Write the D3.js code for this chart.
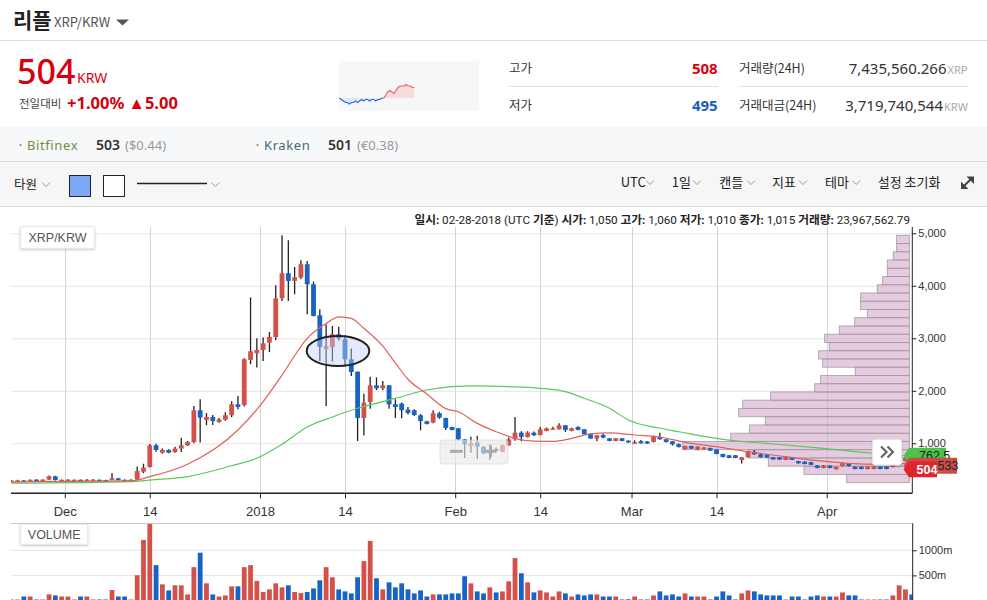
<!DOCTYPE html>
<html>
<head>
<meta charset="utf-8">
<title>리플 XRP/KRW</title>
<script src="https://d3js.org/d3.v7.min.js"></script>
<style>
  body { margin: 0; background: #fff; overflow: hidden; }
  svg { display: block; }
</style>
</head>
<body>
<svg id="c" width="987" height="600"></svg>
<script>
// one candle per UTC day, starting at firstDay
var firstDay = '2017-11-22';
var opens = [
  262,265,292,280,308,290,308,371,290,292,
  290,305,288,290,305,300,300,333,305,290,
  310,460,549,962,822,873,835,899,962,1025,
  1629,1445,1502,1407,1451,1534,1743,1730,2588,2715,
  2778,2918,3026,3762,4239,4093,4157,4410,4029,3439,
  2803,2835,3077,2981,2600,2365,1483,1788,2105,2047,
  2105,1743,1756,1642,1629,1534,1419,1394,1572,1483,
  1311,1286,1076,949,1013,930,810,892,840,962,
  1076,1203,1121,1203,1159,1235,1280,1267,1343,1235,
  1311,1267,1180,1090,1159,1095,1045,1095,1050,1015,
  1040,1035,1026,1121,1077,1038,985,886,949,880,
  886,911,880,797,772,772,682,734,840,790,
  780,734,730,683,730,660,650,640,575,530,
  575,505,570,615,552,552,510,510,552,552,
  552,590,663,700];
var highs = [
  300,305,300,312,315,316,385,380,312,315,
  312,310,318,320,312,308,435,340,312,315,
  560,610,985,990,900,885,935,1108,1045,1711,
  1838,1578,1540,1480,1590,1800,1900,2620,3775,3000,
  3013,3121,4010,4963,4867,4359,4486,4474,4080,3553,
  3267,3236,3220,3058,2804,2370,1946,2270,2251,2188,
  2110,1838,1775,1690,1650,1560,1430,1629,1600,1485,
  1315,1290,1080,1127,1140,950,981,920,975,1110,
  1502,1229,1230,1225,1310,1300,1315,1380,1345,1295,
  1325,1270,1185,1160,1180,1100,1100,1100,1060,1060,
  1065,1045,1150,1203,1080,1045,995,955,955,945,
  925,915,885,800,775,775,740,860,870,800,
  790,740,738,740,735,670,660,650,585,585,
  580,555,630,625,560,560,560,560,560,560,
  610,650,740,705];
var lows = [
  250,255,255,272,282,285,300,292,280,285,
  284,278,282,285,280,280,295,292,278,285,
  300,430,540,840,800,810,820,835,950,1000,
  1013,1343,1350,1390,1430,1500,1650,1700,2505,2442,
  2569,2740,2962,3712,3712,3839,4125,3458,3413,2569,
  1711,2556,2960,2486,2283,1045,1150,1660,2016,2010,
  1660,1483,1477,1550,1520,1248,1360,1380,1470,1255,
  1248,1060,720,822,708,790,689,835,830,950,
  1050,1038,1110,1140,1150,1230,1260,1265,1215,1230,
  1248,1170,1085,1040,1095,1040,1040,1040,1010,990,
  995,985,1015,1070,1015,960,920,880,890,870,
  880,855,790,730,715,715,613,730,780,730,
  725,685,684,680,680,612,600,585,525,525,
  525,500,560,560,505,505,505,505,505,505,
  545,585,655,500];
var closes = [
  290,292,262,305,290,308,371,300,305,308,
  305,285,305,306,288,286,333,300,285,305,
  470,537,962,873,873,822,899,962,1025,1629,
  1489,1502,1426,1457,1534,1743,1692,2600,2753,2778,
  2905,3026,3762,4239,4093,4163,4410,4029,3426,2835,
  2848,3077,3000,2600,2359,1483,1775,2105,2047,2105,
  1743,1692,1629,1578,1540,1426,1369,1572,1489,1292,
  1254,1076,981,1000,937,810,876,856,962,1076,
  1203,1121,1203,1153,1267,1286,1286,1343,1254,1286,
  1254,1172,1090,1153,1108,1045,1095,1045,1015,1020,
  1000,995,1128,1077,1025,981,930,949,899,937,
  918,861,797,740,721,721,734,840,790,734,
  730,695,690,730,683,620,605,590,530,575,
  530,550,620,568,510,510,552,552,510,510,
  600,640,715,533];
// volume in millions of XRP
var volumes = [
  20,20,80,80,20,20,121,101,80,80,
  20,80,80,20,20,20,208,80,80,20,
  503,1207,1529,704,322,201,302,302,121,664,
  952,342,121,80,101,282,282,664,704,389,
  168,221,342,262,302,168,148,168,241,402,
  664,463,221,181,141,463,785,1187,443,221,
  362,262,342,221,141,201,80,121,121,121,
  141,141,483,342,181,141,262,161,181,382,
  845,543,362,161,201,161,80,181,141,80,
  121,101,121,121,80,80,80,20,23.96756279,80,
  20,20,101,181,101,121,80,141,80,80,
  80,20,80,181,101,20,141,201,181,121,
  101,101,101,20,80,80,20,80,101,80,
  80,80,161,101,101,20,20,20,20,20,
  101,302,221,121];
var hoverIndex = 98;

// moving averages
var maShortDates = ['2017-11-22','2017-12-11','2017-12-14','2017-12-20','2017-12-28','2018-01-01','2018-01-04','2018-01-08','2018-01-11','2018-01-13','2018-01-15','2018-01-17','2018-01-20','2018-01-22','2018-01-24','2018-01-27','2018-01-30','2018-02-01','2018-02-04','2018-02-07','2018-02-10','2018-02-13','2018-02-16','2018-02-19','2018-02-22','2018-02-25','2018-03-01','2018-03-05','2018-03-09','2018-03-14','2018-03-19','2018-03-25','2018-03-30','2018-04-04','2018-04-09','2018-04-13'];
var maShort = [265,285,364,600,1253,1793,2300,3000,3280,3410,3381,3191,2850,2530,2220,1940,1660,1600,1380,1221,1095,1040,1035,1095,1180,1200,1158,1120,1019,935,840,745,669,619,600,619];
var maLongDates = ['2017-11-22','2017-12-11','2017-12-14','2017-12-20','2017-12-27','2017-12-31','2018-01-04','2018-01-08','2018-01-12','2018-01-16','2018-01-20','2018-01-22','2018-01-27','2018-01-31','2018-02-04','2018-02-09','2018-02-14','2018-02-18','2018-02-21','2018-02-25','2018-02-28','2018-03-05','2018-03-08','2018-03-15','2018-03-23','2018-03-31','2018-04-08','2018-04-13'];
var maLong = [240,269,300,364,573,714,981,1311,1501,1667,1793,1857,2015,2078,2092,2078,2048,1983,1857,1667,1444,1286,1220,1076,987,905,810,762.5];

// volume profile, lowest price bin first
var profileVol = [470,790,1058,1208,1700,1340,1200,1080,1280,1250,1040,710,665,405,650,680,600,635,525,410,315,365,365,240,200,165,165,120,95,95];

var priceTicks = [1000,2000,3000,4000,5000];
var volTicks = [500,1000];
var timeTicks = ['2017-12-01T00:00Z','2017-12-14T12:00Z','2018-01-01T00:00Z','2018-01-14T12:00Z','2018-02-01T00:00Z','2018-02-14T12:00Z','2018-03-01T00:00Z','2018-03-14T12:00Z','2018-04-01T00:00Z'];
var timeLabels = ['Dec','14','2018','14','Feb','14','Mar','14','Apr'];

var lastPrices = [762.5, 533, 504];

// 24h sparkline and its previous close
var sparkVals = [499,498,497,496,496,495,496,496,497,496,497,498,497,498,498,497,498,498,497,498,498,499,499,501,503,504,503,502,504,506,507,507,507,508,507,507,506,506];
var sparkBase = 499;

// drawn ellipse annotation (time span, price span)
var ellipseDates = ['2018-01-08T10:00Z','2018-01-18T08:36Z'];
var ellipsePrices = [2473, 3044];

var KR = '"Noto Sans CJK KR", "Noto Sans", sans-serif';
var NS = '"Noto Sans", sans-serif';
var AR = '"Liberation Sans", Arial, sans-serif';
var RED = '#d7000f', BLUE = '#1a5dc8';
var UP = '#d4514a', DOWN = '#1763c6';

var svg = d3.select('#c');

function label(g, x, y, s, o) {
  o = o || {};
  return g.append('text').attr('x', x).attr('y', y).text(s)
    .attr('font-family', o.family || KR)
    .attr('font-size', o.size || 13)
    .attr('font-weight', o.weight || 400)
    .attr('fill', o.fill || '#333')
    .attr('text-anchor', o.anchor || 'start');
}
function chev(x, y) {
  svg.append('path').attr('d', 'M' + x + ',' + y + 'l4,4l4,-4')
    .attr('fill', 'none').attr('stroke', '#9a9a9a').attr('stroke-width', 1);
}

var defs = svg.append('defs');
defs.append('filter').attr('id', 'sh').attr('x', '-20%').attr('y', '-30%').attr('width', '140%').attr('height', '170%')
  .append('feDropShadow').attr('dx', 0).attr('dy', 1).attr('stdDeviation', 1.2).attr('flood-opacity', 0.22);
defs.append('clipPath').attr('id', 'plot').append('rect').attr('x', 11).attr('y', 227).attr('width', 901.3).attr('height', 266.3);
defs.append('clipPath').attr('id', 'vplot').append('rect').attr('x', 11).attr('y', 524).attr('width', 901.5).attr('height', 80);

// ---------- header ----------
label(svg, 13, 28, '리플', {size: 21, weight: 700, fill: '#222'});
label(svg, 54, 27, 'XRP/KRW', {size: 13, fill: '#555'});
svg.append('path').attr('d', 'M116,19.5L129,19.5L122.5,25.5Z').attr('fill', '#555');
svg.append('line').attr('x1', 0).attr('x2', 987).attr('y1', 40.5).attr('y2', 40.5).attr('stroke', '#ddd');

label(svg, 17, 84, '504', {size: 34, weight: 500, fill: RED, family: NS});
label(svg, 77, 83, 'KRW', {size: 14, fill: RED, family: NS});
label(svg, 19, 108, '전일대비', {size: 11.5, fill: '#444'});
label(svg, 67, 109, '+1.00% ▲5.00', {size: 16.5, weight: 700, fill: RED, family: NS});

// sparkline
svg.append('rect').attr('x', 339).attr('y', 60.7).attr('width', 140).attr('height', 50.3).attr('fill', '#f6f7f9');
var sx = d3.scaleLinear().domain([0, 69]).range([339.3, 479]);
var sy = d3.scaleLinear().domain([495, 508]).range([104, 84.5]);
defs.append('clipPath').attr('id', 'spUp').append('rect').attr('x', 339).attr('y', 60).attr('width', 140).attr('height', sy(sparkBase) - 60);
defs.append('clipPath').attr('id', 'spDn').append('rect').attr('x', 339).attr('y', sy(sparkBase)).attr('width', 140).attr('height', 111 - sy(sparkBase));
var spArea = d3.area().x(function(d, i) { return sx(i); }).y0(sy(sparkBase)).y1(function(d) { return sy(d); });
var spLine = d3.line().x(function(d, i) { return sx(i); }).y(function(d) { return sy(d); });
svg.append('path').datum(sparkVals).attr('d', spArea).attr('fill', '#f7dcdc').attr('clip-path', 'url(#spUp)');
svg.append('path').datum(sparkVals).attr('d', spArea).attr('fill', '#dfe6f5').attr('clip-path', 'url(#spDn)');
svg.append('path').datum(sparkVals).attr('d', spLine).attr('fill', 'none').attr('stroke', '#e06a66').attr('stroke-width', 1.2).attr('clip-path', 'url(#spUp)');
svg.append('path').datum(sparkVals).attr('d', spLine).attr('fill', 'none').attr('stroke', '#2f6fd0').attr('stroke-width', 1.2).attr('clip-path', 'url(#spDn)');

// high / low / volume block
label(svg, 509, 73, '고가', {size: 12.5, fill: '#333'});
label(svg, 717.7, 74, '508', {size: 15, weight: 700, fill: RED, anchor: 'end', family: NS});
label(svg, 509, 110, '저가', {size: 12.5, fill: '#333'});
label(svg, 717.7, 111, '495', {size: 15, weight: 700, fill: BLUE, anchor: 'end', family: NS});
svg.append('line').attr('x1', 509).attr('x2', 718).attr('y1', 86.5).attr('y2', 86.5).attr('stroke', '#e2e2e6');
svg.append('line').attr('x1', 739).attr('x2', 969).attr('y1', 86.5).attr('y2', 86.5).attr('stroke', '#e2e2e6');
label(svg, 739, 73, '거래량(24H)', {size: 12.5, fill: '#333'});
label(svg, 946.5, 74, '7,435,560.266', {size: 15, fill: '#333', anchor: 'end', family: NS});
label(svg, 947.5, 74, 'XRP', {size: 11, fill: '#aaa', family: NS});
label(svg, 739, 110, '거래대금(24H)', {size: 12.5, fill: '#333'});
label(svg, 943, 111, '3,719,740,544', {size: 15, fill: '#333', anchor: 'end', family: NS});
label(svg, 944, 111, 'KRW', {size: 11, fill: '#aaa', family: NS});

// exchanges bar
svg.append('rect').attr('x', 0).attr('y', 128).attr('width', 987).attr('height', 34).attr('fill', '#f7f8fa');
svg.append('line').attr('x1', 0).attr('x2', 987).attr('y1', 128).attr('y2', 128).attr('stroke', '#eef0f3');
svg.append('line').attr('x1', 0).attr('x2', 987).attr('y1', 161.5).attr('y2', 161.5).attr('stroke', '#dcdcdc');
svg.append('circle').attr('cx', 20.5).attr('cy', 145).attr('r', 1.1).attr('fill', '#888');
label(svg, 27, 149.5, 'Bitfinex', {size: 13, fill: '#6f8d3c', family: NS}).attr('letter-spacing', 0.6);
label(svg, 96, 149.5, '503', {size: 14, weight: 600, fill: '#333', family: NS});
label(svg, 125, 149.5, '($0.44)', {size: 13, fill: '#999', family: NS});
svg.append('circle').attr('cx', 257.5).attr('cy', 145).attr('r', 1.1).attr('fill', '#888');
label(svg, 264, 149.5, 'Kraken', {size: 13, fill: '#46697a', family: NS}).attr('letter-spacing', 0.6);
label(svg, 328, 149.5, '501', {size: 14, weight: 600, fill: '#333', family: NS});
label(svg, 357, 149.5, '(€0.38)', {size: 13, fill: '#999', family: NS});

// toolbar
svg.append('rect').attr('x', 0).attr('y', 162).attr('width', 987).attr('height', 44).attr('fill', '#f6f6f6');
svg.append('line').attr('x1', 0).attr('x2', 987).attr('y1', 206.5).attr('y2', 206.5).attr('stroke', '#dcdcdc');
label(svg, 14, 189, '타원', {size: 12.5, fill: '#222'});
chev(42, 182.5);
svg.append('rect').attr('x', 69.5).attr('y', 175.5).attr('width', 21).attr('height', 21).attr('fill', '#7ea8f3').attr('stroke', '#222');
svg.append('rect').attr('x', 103.5).attr('y', 175.5).attr('width', 21).attr('height', 21).attr('fill', '#fff').attr('stroke', '#222');
svg.append('line').attr('x1', 137).attr('x2', 207).attr('y1', 183.5).attr('y2', 183.5).attr('stroke', '#222').attr('stroke-width', 1.3);
chev(211.5, 182.5);
[['UTC', 620.7, 646], ['1일', 671.7, 693], ['캔들', 719.3, 747], ['지표', 772, 799], ['테마', 825, 852.3]].forEach(function(m) {
  label(svg, m[1], 187, m[0], {size: 13, fill: '#222'});
  chev(m[2], 180.5);
});
label(svg, 877.7, 187, '설정 초기화', {size: 13, fill: '#222'});
svg.append('path').attr('d', 'M966.5,176.5L974,176.5L974,184Z M961,181.5L961,189L968.5,189Z').attr('fill', '#444');
svg.append('line').attr('x1', 963).attr('y1', 187).attr('x2', 972).attr('y2', 178).attr('stroke', '#444').attr('stroke-width', 2);

// ---------- chart ----------
var dates = opens.map(function(d, i) { return d3.utcDay.offset(new Date(firstDay + 'T12:00:00Z'), i); });
var x = d3.scaleUtc().domain([new Date(Date.UTC(2017, 10, 22, 11)), new Date(Date.UTC(2018, 3, 14, 14, 10))]).range([11, 912.3]);
var y = d3.scaleLinear().domain([1000, 5000]).range([443.3, 233.3]);
var yv = d3.scaleLinear().domain([0, 1000]).range([600.5, 550.3]);
var tickDates = timeTicks.map(function(t) { return new Date(t); });

// hovered candle info line
var fmt = d3.format(',');
var hd = dates[hoverIndex];
var info = svg.append('text').attr('x', 910).attr('y', 224).attr('text-anchor', 'end')
  .attr('font-family', 'Roboto, ' + KR).attr('font-size', 11.7).attr('fill', '#222');
[['일시: ', 1], [d3.utcFormat('%m-%d-%Y')(hd) + ' (UTC ', 0], ['기준', 1], [') ', 0],
 ['시가: ', 1], [fmt(opens[hoverIndex]) + ' ', 0], ['고가: ', 1], [fmt(highs[hoverIndex]) + ' ', 0],
 ['저가: ', 1], [fmt(lows[hoverIndex]) + ' ', 0], ['종가: ', 1], [fmt(closes[hoverIndex]) + ' ', 0],
 ['거래량: ', 1], [d3.format(',.2f')(volumes[hoverIndex] * 1e6), 0]].forEach(function(p) {
  info.append('tspan').text(p[0]).attr('font-weight', p[1] ? 700 : 400);
});

// grid
svg.append('g').selectAll('line').data(priceTicks).enter().append('line')
  .attr('x1', 11).attr('x2', 912).attr('y1', function(d) { return y(d) + 0.5; }).attr('y2', function(d) { return y(d) + 0.5; })
  .attr('stroke', '#e4e4e4');
svg.append('g').selectAll('line').data(tickDates).enter().append('line')
  .attr('x1', function(d) { return Math.round(x(d)) + 0.5; }).attr('x2', function(d) { return Math.round(x(d)) + 0.5; })
  .attr('y1', 227).attr('y2', 493).attr('stroke', '#d4d4d4');

var plot = svg.append('g').attr('clip-path', 'url(#plot)');

// volume profile
var pLo = d3.min(lows), pHi = d3.max(highs), pStep = (pHi - pLo) / profileVol.length;
var pw = d3.scaleLinear().domain([0, d3.max(profileVol)]).range([0, 226.6]);
plot.append('g').selectAll('rect').data(profileVol).enter().append('rect')
  .attr('x', function(d) { return 909.3 - pw(d); })
  .attr('y', function(d, i) { return y(pLo + (i + 1) * pStep); })
  .attr('width', function(d) { return pw(d); })
  .attr('height', function(d, i) { return y(pLo + i * pStep) - y(pLo + (i + 1) * pStep); })
  .attr('fill', '#d6a6cc').attr('fill-opacity', 0.6)
  .attr('stroke', '#9a9a9a').attr('stroke-opacity', 0.85).attr('stroke-width', 0.9);

// candles
var cg = plot.append('g');
opens.forEach(function(o, i) {
  var c = closes[i], cx = x(dates[i]), col = c >= o ? UP : DOWN;
  cg.append('line').attr('x1', cx).attr('x2', cx).attr('y1', y(highs[i])).attr('y2', y(lows[i]))
    .attr('stroke', '#222').attr('stroke-width', 1.3);
  var top = y(Math.max(o, c)), h = Math.max(1.6, Math.abs(y(o) - y(c)));
  cg.append('rect').attr('x', cx - 2.4).attr('y', top).attr('width', 4.8).attr('height', h).attr('fill', col);
});

// moving averages
var maLine = d3.line().x(function(d) { return x(d[0]); }).y(function(d) { return y(d[1]); }).curve(d3.curveMonotoneX);
function pairs(ds, vs) { return ds.map(function(d, i) { return [new Date(d + 'T12:00:00Z'), vs[i]]; }); }
plot.append('path').datum(pairs(maLongDates, maLong)).attr('d', maLine)
  .attr('fill', 'none').attr('stroke', '#5bc95b').attr('stroke-width', 1.2);
plot.append('path').datum(pairs(maShortDates, maShort)).attr('d', maLine)
  .attr('fill', 'none').attr('stroke', '#e2605a').attr('stroke-width', 1.2);

// ellipse drawing
var ex0 = x(new Date(ellipseDates[0])), ex1 = x(new Date(ellipseDates[1]));
var ey0 = y(ellipsePrices[1]), ey1 = y(ellipsePrices[0]);
plot.append('ellipse').attr('cx', (ex0 + ex1) / 2).attr('cy', (ey0 + ey1) / 2)
  .attr('rx', (ex1 - ex0) / 2).attr('ry', (ey1 - ey0) / 2)
  .attr('fill', 'rgba(190,208,248,0.45)').attr('stroke', '#222').attr('stroke-width', 2);

// floating zoom control
svg.append('rect').attr('x', 440).attr('y', 440).attr('width', 68).attr('height', 24).attr('rx', 3)
  .attr('fill', 'rgba(232,232,232,0.62)').attr('stroke', 'rgba(210,210,210,0.6)');
svg.append('rect').attr('x', 450).attr('y', 449.8).attr('width', 12.7).attr('height', 3).attr('fill', '#aaa');
svg.append('rect').attr('x', 484.5).attr('y', 449.8).attr('width', 12).attr('height', 3).attr('fill', '#aaa');
svg.append('rect').attr('x', 489).attr('y', 445.3).attr('width', 3).attr('height', 12).attr('fill', '#aaa');

// x axis
svg.append('line').attr('x1', 11).attr('x2', 912.3).attr('y1', 493.3).attr('y2', 493.3).attr('stroke', '#222').attr('stroke-width', 1.5);
var xa = svg.append('g').attr('transform', 'translate(0,493.3)')
  .call(d3.axisBottom(x).tickValues(tickDates).tickFormat(function(d, i) { return timeLabels[i]; }).tickSize(5).tickPadding(8));
xa.select('.domain').remove();
xa.selectAll('line').attr('stroke', '#222');
xa.selectAll('text').attr('font-family', AR).attr('font-size', 13).attr('fill', '#333');

// y axis
svg.append('line').attr('x1', 912.3).attr('x2', 912.3).attr('y1', 227).attr('y2', 493.3).attr('stroke', '#222');
var ya = svg.append('g').attr('transform', 'translate(912.3,0)')
  .call(d3.axisRight(y).tickValues(priceTicks).tickFormat(fmt).tickSize(4).tickPadding(2));
ya.select('.domain').remove();
ya.selectAll('line').attr('stroke', '#222');
ya.selectAll('text').attr('font-family', AR).attr('font-size', 11).attr('fill', '#333');

// label box
svg.append('rect').attr('x', 20.7).attr('y', 226.7).attr('width', 73.6).attr('height', 21.6)
  .attr('fill', '#fff').attr('stroke', '#e6e6e6').attr('filter', 'url(#sh)');
label(svg, 57.5, 242, 'XRP/KRW', {size: 12.5, fill: '#555', anchor: 'middle', family: AR});

// next button
svg.append('rect').attr('x', 872.3).attr('y', 439.3).attr('width', 29.4).attr('height', 25.7).attr('rx', 3)
  .attr('fill', '#fff').attr('stroke', '#e4e4e4').attr('filter', 'url(#sh)');
svg.append('path').attr('d', 'M881,446.5l5.5,5.5l-5.5,5.5 M887.5,446.5l5.5,5.5l-5.5,5.5')
  .attr('fill', 'none').attr('stroke', '#666').attr('stroke-width', 2.2);

// last value tags, stacked as in the original
var tagCols = ['#4cc24c', '#cc4c45', '#e1242b'];
var tagRight = [946, 957, 937];
var tagText = [['#222', 400, 919], ['#222', 400, 937.5], ['#fff', 700, 916.5]];
lastPrices.forEach(function(v, i) {
  var cy = y(v) - (i === 1 ? 2 : 0);
  svg.append('path').attr('d', 'M903.5,' + cy + 'L909,' + (cy - 8) + 'L' + tagRight[i] + ',' + (cy - 8) +
      'L' + tagRight[i] + ',' + (cy + 8) + 'L909,' + (cy + 8) + 'Z').attr('fill', tagCols[i]);
  label(svg, tagText[i][2], cy + 4.5, d3.format(',')(v), {size: 12.5, weight: tagText[i][1], fill: tagText[i][0], family: AR});
});

// ---------- volume panel ----------
svg.append('line').attr('x1', 11).attr('x2', 912.7).attr('y1', 523.5).attr('y2', 523.5).attr('stroke', '#c8c8c8');
svg.append('g').selectAll('line').data(volTicks).enter().append('line')
  .attr('x1', 11).attr('x2', 912.7).attr('y1', function(d) { return yv(d); }).attr('y2', function(d) { return yv(d); })
  .attr('stroke', '#e4e4e4');
svg.append('g').attr('clip-path', 'url(#vplot)').selectAll('rect').data(volumes).enter().append('rect')
  .attr('x', function(d, i) { return x(dates[i]) - 2.4; })
  .attr('y', function(d) { return yv(d); })
  .attr('width', 4.8)
  .attr('height', function(d) { return 602 - yv(d); })
  .attr('fill', function(d, i) { return closes[i] >= opens[i] ? UP : DOWN; });
svg.append('line').attr('x1', 912.7).attr('x2', 912.7).attr('y1', 523.3).attr('y2', 600).attr('stroke', '#222');
var va = svg.append('g').attr('transform', 'translate(912.7,0)')
  .call(d3.axisRight(yv).tickValues(volTicks).tickFormat(function(d) { return d + 'm'; }).tickSize(4).tickPadding(2));
va.select('.domain').remove();
va.selectAll('line').attr('stroke', '#222');
va.selectAll('text').attr('font-family', AR).attr('font-size', 11).attr('fill', '#333');
svg.append('rect').attr('x', 20.7).attr('y', 524.3).attr('width', 67).attr('height', 20)
  .attr('fill', '#fff').attr('stroke', '#e6e6e6').attr('filter', 'url(#sh)');
label(svg, 54.2, 539, 'VOLUME', {size: 12.5, fill: '#555', anchor: 'middle', family: AR});
</script>
</body>
</html>
